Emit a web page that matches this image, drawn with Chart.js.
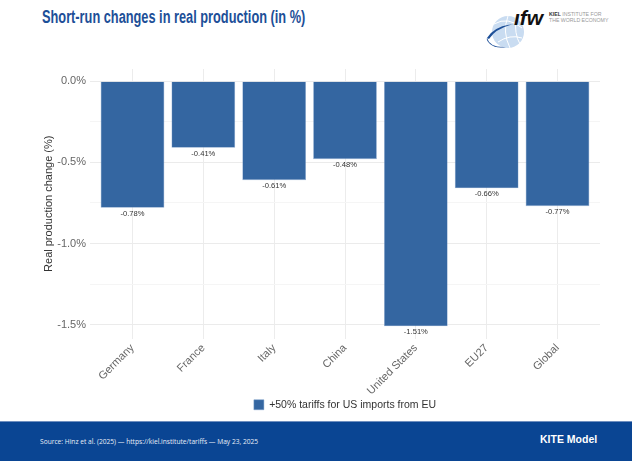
<!DOCTYPE html>
<html>
<head>
<meta charset="utf-8">
<script src="https://cdn.jsdelivr.net/npm/chart.js@4.4.1/dist/chart.umd.min.js"></script>
<style>
    body { margin: 0; width: 632px; height: 461px; background: #fff; position: relative; overflow: hidden; font-family: "Liberation Sans", Arial, sans-serif; }
    #title { position: absolute; left: 42px; top: 6px; font-family: "Liberation Sans", Arial, sans-serif; font-weight: bold; font-size: 17.5px; color: #1d4f98; line-height: 22px; white-space: nowrap; transform: scaleX(0.73); transform-origin: left center; }
    #logo { position: absolute; left: 484px; top: 8px; width: 130px; height: 42px; }
    #chartBox { position: absolute; left: 0; top: 60px; width: 632px; height: 360px; }
    #footer { position: absolute; left: 0; top: 421px; width: 632px; height: 40px; background: #0a4593; border-top: 1px solid #6f8fbf; }
    #source { position: absolute; left: 40px; top: 14px; font-family: "Open Sans", sans-serif; font-size: 7.3px; color: #e8eef7; white-space: nowrap; transform: scaleX(0.91); transform-origin: left center; }
    #kite { position: absolute; left: 540px; top: 11px; font-family: "Liberation Sans", Arial, sans-serif; font-weight: bold; font-size: 10.5px; color: #fff; }
</style>
</head>
<body>
<div id="title">Short-run changes in real production (in %)</div>
<svg id="logo" viewBox="0 0 130 42">
    <circle cx="24" cy="24" r="16" fill="#c9dcf1"/>
    <path d="M10 16 Q24 8 38 20 M14 34 Q26 26 38 30 M24 8 Q18 24 26 40 M32 10 Q30 26 36 36" stroke="#ffffff" stroke-width="1" fill="none"/>
    <path d="M3 30 Q6 40 22 39 Q12 41 6 36 Q2 32 3 30 Z M3 30 Q10 18 30 16 Q12 20 5 31 Z" fill="#1d4f98"/>
    <text x="30" y="17" font-family="Liberation Sans, sans-serif" font-style="italic" font-weight="bold" font-size="21" fill="#111">ıfw</text>
    <text x="65" y="8" font-family="Liberation Sans, sans-serif" font-size="5.2" fill="#999"><tspan font-weight="bold" fill="#333">KIEL</tspan> INSTITUTE FOR</text>
    <text x="65" y="14" font-family="Liberation Sans, sans-serif" font-size="5.2" fill="#999">THE WORLD ECONOMY</text>
</svg>
<div id="chartBox"><canvas id="myChart" width="632" height="360"></canvas></div>
<div id="footer">
    <div id="source">Source: Hinz et al. (2025) — https://kiel.institute/tariffs — May 23, 2025</div>
    <div id="kite">KITE Model</div>
</div>
<script>
// Regions and their short-run real production change, in %
const categories = ['Germany', 'France', 'Italy', 'China', 'United States', 'EU27', 'Global'];
const productionChange = [-0.78, -0.41, -0.61, -0.48, -1.51, -0.66, -0.77];
const seriesLabel = '+50% tariffs for US imports from EU';
const yMajorTicks = [-1.5, -1.0, -0.5, 0.0];
const yMinorTicks = [-1.25, -0.75, -0.25];

const barColor = '#3466a1';

// value labels under each bar end
const valueLabels = {
    id: 'valueLabels',
    afterDatasetsDraw(chart) {
        let ctx = chart.ctx;
        let meta = chart.getDatasetMeta(0);
        ctx.save();
        ctx.font = '7.6px "Liberation Sans", Arial, sans-serif';
        ctx.fillStyle = '#333';
        ctx.textAlign = 'center';
        ctx.textBaseline = 'top';
        meta.data.forEach(function(bar, i) {
            ctx.fillText(productionChange[i].toFixed(2) + '%', bar.x, bar.y + 2);
        });
        ctx.restore();
    }
};

let ctx = document.getElementById('myChart').getContext('2d');
new Chart(ctx, {
    type: 'bar',
    data: {
        datasets: [{
            label: seriesLabel,
            data: productionChange.map(function(v, i) { return { x: i, y: v }; }),
            backgroundColor: barColor,
            borderColor: 'rgba(120,155,200,0.8)',
            borderWidth: 0.6,
            barPercentage: 0.9,
            categoryPercentage: 1.0
        }]
    },
    options: {
        responsive: false,
        animation: false,
        layout: { padding: { top: 9, left: 42, right: 32, bottom: 0 } },
        plugins: {
            legend: {
                position: 'bottom',
                fullSize: false, // centred under the plot area
                labels: {
                    boxWidth: 10,
                    boxHeight: 10,
                    color: '#333',
                    font: { size: 10.5, family: '"Liberation Sans", Arial, sans-serif' },
                    padding: 5
                }
            },
            tooltip: { enabled: false }
        },
        scales: {
            x: {
                type: 'linear',
                offset: false,
                min: -0.6,
                max: 6.6,
                afterBuildTicks: function(scale) {
                    scale.ticks = categories.map(function(c, i) { return { value: i }; });
                },
                afterFit: function(scale) {
                    // keep the rotated labels from pushing the plot inwards
                    scale.height = 56;
                    scale.paddingLeft = 0;
                    scale.paddingRight = 0;
                },
                grid: { color: '#ececec', drawTicks: false, offset: false },
                border: { display: false },
                ticks: {
                    autoSkip: false,
                    minRotation: 45,
                    maxRotation: 45,
                    padding: 3,
                    color: '#666',
                    font: { size: 11, family: '"Liberation Sans", Arial, sans-serif' },
                    callback: function(value) { return categories[value]; }
                }
            },
            y: {
                min: -1.5855,
                max: 0.0755,
                afterBuildTicks: function(scale) {
                    scale.ticks = yMajorTicks.concat(yMinorTicks)
                        .sort(function(a, b) { return a - b; })
                        .map(function(v) { return { value: v }; });
                },
                afterFit: function(scale) {
                    scale.width = 48;
                    scale.paddingTop = 0;
                    scale.paddingBottom = 0;
                },
                grid: {
                    drawTicks: false,
                    color: function(c) {
                        return yMajorTicks.indexOf(c.tick.value) >= 0 ? '#ebebeb' : '#f5f5f5';
                    }
                },
                border: { display: false },
                title: {
                    display: true,
                    text: 'Real production change (%)',
                    color: '#333',
                    font: { size: 11, family: '"Liberation Sans", Arial, sans-serif' },
                    padding: { top: 0, bottom: 4 }
                },
                ticks: {
                    padding: 4,
                    color: '#666',
                    font: { size: 11, family: '"Liberation Sans", Arial, sans-serif' },
                    callback: function(value) {
                        return yMajorTicks.indexOf(value) >= 0 ? value.toFixed(1) + '%' : '';
                    }
                }
            }
        }
    },
    plugins: [valueLabels]
});
</script>
</body>
</html>
